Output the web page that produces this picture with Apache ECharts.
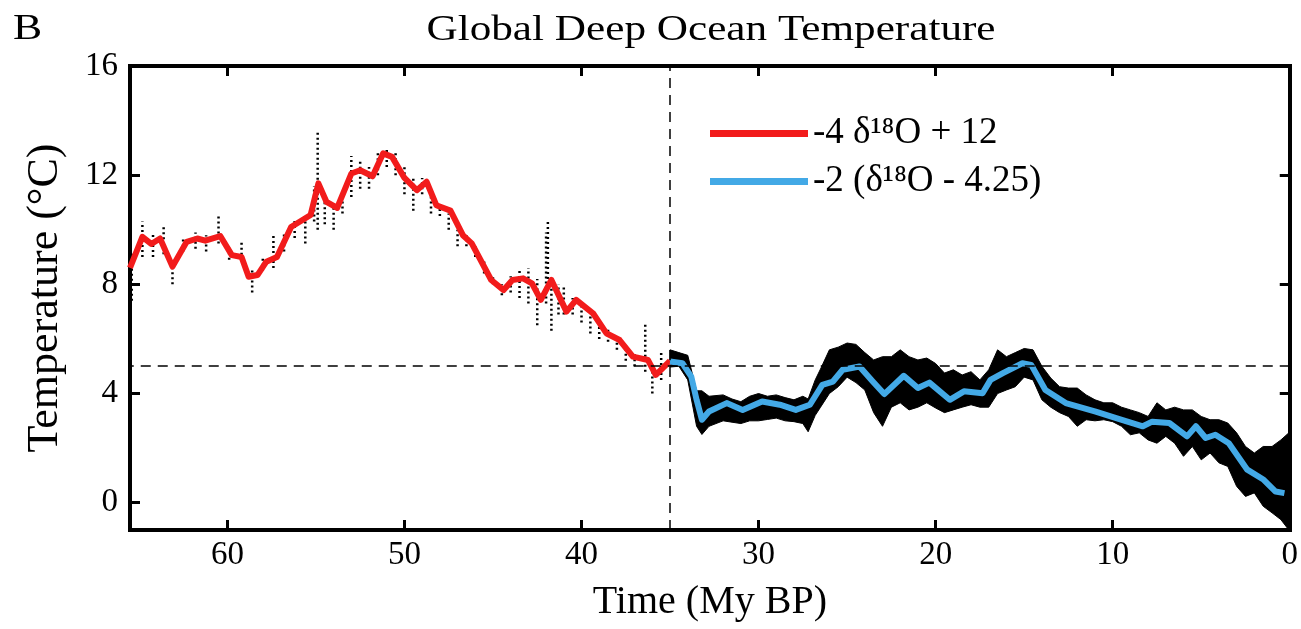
<!DOCTYPE html>
<html><head><meta charset="utf-8">
<script src="https://cdn.jsdelivr.net/npm/echarts@6/dist/echarts.min.js"></script>
<style>html,body{margin:0;padding:0;background:#fff}#c{width:1301px;height:629px}</style>
</head><body><div id="c"></div>
<script>
// Smoothed curves
const redTime = [65.5,64.8,64.3,63.8,63.1,62.3,61.7,61.25,60.4,59.75,59.2,58.8,58.3,57.8,57.2,56.4,55.3,54.86,54.4,53.8,53.0,52.5,51.8,51.2,50.7,50.0,49.3,48.75,48.2,47.4,46.7,46.2,45.1,44.4,43.9,43.3,42.8,42.3,41.7,40.85,40.3,39.35,38.6,37.85,37.1,36.25,35.8,35.0];
const redTemp = [8.6,9.74,9.48,9.68,8.65,9.56,9.68,9.6,9.77,9.07,9.0,8.28,8.34,8.83,9.0,10.1,10.54,11.7,11.02,10.8,12.06,12.18,11.96,12.8,12.67,11.9,11.45,11.76,10.9,10.7,9.8,9.5,8.16,7.79,8.16,8.22,8.04,7.43,8.16,7.0,7.43,6.94,6.21,5.96,5.35,5.23,4.68,5.2];
const blueTime = [35.0,34.3,33.8,33.5,33.2,32.8,31.8,30.9,29.8,28.8,27.9,27.1,26.4,25.8,25.25,24.3,23.55,22.9,21.8,21.0,20.35,19.2,18.4,17.35,16.9,16.2,15.1,14.6,13.8,12.65,10.96,9.8,8.3,7.77,6.8,5.8,5.3,4.75,4.2,3.44,2.4,1.47,0.8,0.3];
const blueTemp = [5.17,5.11,4.62,3.77,3.04,3.34,3.65,3.4,3.71,3.59,3.4,3.59,4.32,4.44,4.87,4.99,4.44,3.98,4.65,4.2,4.4,3.77,4.08,4.01,4.5,4.75,5.11,5.05,4.13,3.65,3.34,3.1,2.8,2.97,2.92,2.43,2.8,2.37,2.49,2.18,1.21,0.84,0.41,0.35];
// Raw data spread (sparse older part)
const sparseTime = [65.4,64.8,64.2,63.6,63.1,62.5,61.8,61.2,60.5,59.9,59.2,58.6,58.0,57.4,56.8,56.2,55.6,55.1,54.9,54.5,54.0,53.5,53.0,52.5,52.0,51.5,51.0,50.5,50.0,49.5,49.0,48.5,48.0,47.5,47.0,46.5,46.0,45.5,45.0,44.5,44.0,43.5,43.0,42.5,42.0,41.9,41.7,41.3,41.0,40.5,40.0,39.5,39.0,38.5,38.0,37.5,37.0,36.4,36.0,35.5];
const sparseLow  = [7.4,9.0,9.0,9.1,8.0,9.2,9.3,9.2,9.5,8.9,8.9,7.7,8.5,8.6,9.2,9.7,9.5,10.3,10.0,10.2,10.0,10.6,11.2,11.5,11.5,12.0,12.3,12.0,11.3,10.7,11.3,10.6,10.5,10.0,9.4,9.4,9.0,8.4,8.0,7.6,7.7,7.5,7.3,6.5,7.3,8.2,6.3,6.9,6.9,6.9,6.6,6.2,6.0,5.9,5.6,5.2,5.0,4.8,4.0,4.5];
const sparseHigh = [9.2,10.3,9.9,10.2,8.8,9.7,9.9,9.8,10.5,9.4,9.6,8.6,9.0,9.8,9.9,10.4,10.5,11.6,13.6,11.3,10.8,11.5,12.7,12.6,12.3,12.9,13.0,12.8,12.3,11.9,11.9,11.5,11.0,10.6,10.0,9.8,9.4,8.9,8.3,8.0,8.3,8.6,8.6,8.2,9.9,10.3,8.3,8.0,7.9,7.5,7.2,6.9,6.5,6.4,6.1,5.7,5.5,6.6,5.0,5.5];
// Raw data spread (dense younger part)
const denseTime = [35.0,34.5,34.0,33.5,33.2,32.8,32.0,31.5,31.0,30.5,30.0,29.5,29.0,28.5,28.0,27.5,27.2,26.8,26.5,26.0,25.5,25.0,24.5,24.0,23.5,23.0,22.5,22.0,21.5,21.0,20.5,20.0,19.5,19.0,18.5,18.0,17.5,17.0,16.5,16.0,15.5,15.0,14.5,14.0,13.5,13.0,12.5,12.0,11.5,11.0,10.5,10.0,9.5,9.0,8.5,8.0,7.5,7.0,6.5,6.0,5.5,5.0,4.5,4.0,3.5,3.0,2.5,2.0,1.5,1.0,0.5,0.05];
const denseLow  = [4.97,5.0,4.5,2.8,2.5,2.8,3.0,2.95,2.9,3.0,3.0,3.05,3.1,3.0,2.97,2.9,2.6,3.2,3.5,4.0,4.25,4.6,4.4,4.13,3.3,2.8,3.5,3.66,3.4,3.5,3.66,3.47,3.3,3.4,3.5,3.59,3.5,3.5,4.0,4.13,4.25,4.6,4.5,3.77,3.5,3.3,3.16,2.8,3.04,3.0,3.04,2.97,2.8,2.49,2.56,2.3,2.18,2.43,2.18,1.7,2.06,1.57,1.82,1.46,1.33,0.6,0.23,0.36,-0.13,-0.37,-0.62,-1.0];
const denseHigh = [5.6,5.5,5.4,4.1,4.1,3.9,3.95,3.8,3.7,3.9,4.0,3.9,3.95,3.85,3.77,3.9,3.8,4.5,4.9,5.6,5.7,5.85,5.8,5.5,5.23,5.35,5.35,5.6,5.35,5.23,5.3,5.1,4.75,4.87,4.68,4.8,4.5,4.87,5.6,5.35,5.5,5.65,5.6,5.0,4.57,4.25,4.2,4.2,3.95,3.77,3.66,3.66,3.5,3.4,3.3,3.16,3.66,3.4,3.5,3.4,3.4,3.16,3.04,3.04,2.92,2.56,2.06,1.82,2.06,2.06,2.3,2.56];
const xTicks = [0,10,20,30,40,50,60];
const yTicks = [0,4,8,12,16];
const refTime = 35;
const refTemp = 5;
const redName = '-4 δ¹⁸O + 12';
const blueName = '-2 (δ¹⁸O - 4.25)';

const FONT = '"Liberation Serif", "Times New Roman", serif';
const RED = '#f21b1b';
const BLUE = '#43a9e6';

const chart = echarts.init(document.getElementById('c'), null, {renderer: 'canvas'});

function frameAxis(pos, isX, showLabel) {
  const ticks = isX ? xTicks : yTicks;
  return {
    type: 'value', position: pos,
    min: isX ? 0 : -1, max: isX ? 65.5 : 16, inverse: isX,
    axisLine: {show: true, onZero: false, lineStyle: {color: '#000', width: 4, cap: 'square'}},
    axisTick: {show: true, inside: true, length: 10, customValues: ticks, lineStyle: {color: '#000', width: 3}},
    axisLabel: {show: showLabel, customValues: ticks, margin: isX ? 9 : 12, color: '#000', fontSize: 33, fontFamily: FONT},
    splitLine: {show: false}
  };
}

const xBottom = Object.assign(frameAxis('bottom', true, true), {
  name: 'Time (My BP)', nameLocation: 'middle', nameGap: 52,
  nameTextStyle: {color: '#000', fontSize: 40, fontFamily: FONT}
});
const yLeft = Object.assign(frameAxis('left', false, true), {
  name: 'Temperature (°C)', nameLocation: 'middle', nameGap: 63,
  nameTextStyle: {color: '#000', fontSize: 44, fontFamily: FONT}
});

const option = {
  backgroundColor: '#fff',
  animation: false,
  grid: {left: 130, right: 10, top: 66, bottom: 99, containLabel: false},
  xAxis: [xBottom, frameAxis('top', true, false)],
  yAxis: [yLeft, frameAxis('right', false, false)],
  graphic: [
    {type: 'text', x: 711, y: 13, scaleX: 1.2, style: {text: 'Global Deep Ocean Temperature', fill: '#000', fontSize: 36, fontFamily: FONT, align: 'center', verticalAlign: 'top', textAlign: 'center', textVerticalAlign: 'top'}},
    {type: 'text', x: 13, y: 12, scaleX: 1.25, style: {text: 'B', fill: '#000', fontSize: 35, fontFamily: FONT, align: 'left', verticalAlign: 'top'}}
  ],
  legend: {
    left: 710, top: 115, orient: 'vertical', padding: 0, itemGap: 11,
    itemWidth: 98, itemHeight: 7, icon: 'rect',
    data: [redName, blueName],
    textStyle: {color: '#000', fontFamily: FONT, fontSize: 37, lineHeight: 36}
  },
  series: [
    {
      type: 'custom', name: 'dense', silent: true, z: 1,
      data: [[denseTime[0], denseLow[0]]],
      encode: {x: 0, y: 1},
      renderItem: function (params, api) {
        const up = [], lo = [];
        for (let i = 0; i < denseTime.length; i++) {
          up.push(api.coord([denseTime[i], denseHigh[i]]));
          lo.push(api.coord([denseTime[i], denseLow[i]]));
        }
        const children = [{type: 'polygon', shape: {points: up.concat(lo.reverse())}, style: {fill: '#000', stroke: '#000', lineWidth: 1}}];
        return {type: 'group', children: children};
      }
    },
    {
      type: 'custom', name: 'sparse', silent: true, z: 1,
      data: sparseTime.map((t, i) => [t, sparseLow[i], sparseHigh[i]]),
      encode: {x: 0, y: [1, 2]},
      renderItem: function (params, api) {
        const a = api.coord([api.value(0), api.value(1)]);
        const b = api.coord([api.value(0), api.value(2)]);
        return {type: 'line', shape: {x1: a[0], y1: a[1], x2: b[0], y2: b[1]}, style: {stroke: '#000', lineWidth: 2.5, lineDash: [2, 3]}};
      }
    },
    {
      type: 'line', name: redName, z: 3, color: RED, itemStyle: {color: RED},
      data: redTime.map((t, i) => [t, redTemp[i]]),
      showSymbol: false, symbol: 'none',
      lineStyle: {color: RED, width: 6, join: 'round'},
      markLine: {
        silent: true, symbol: 'none', label: {show: false},
        lineStyle: {color: '#000', width: 1.5, type: [10, 7]},
        data: [{xAxis: refTime}, {yAxis: refTemp}]
      }
    },
    {
      type: 'line', name: blueName, z: 3, color: BLUE, itemStyle: {color: BLUE},
      data: blueTime.map((t, i) => [t, blueTemp[i]]),
      showSymbol: false, symbol: 'none',
      lineStyle: {color: BLUE, width: 6, join: 'round'}
    }
  ]
};
chart.setOption(option);
</script>
</body></html>
